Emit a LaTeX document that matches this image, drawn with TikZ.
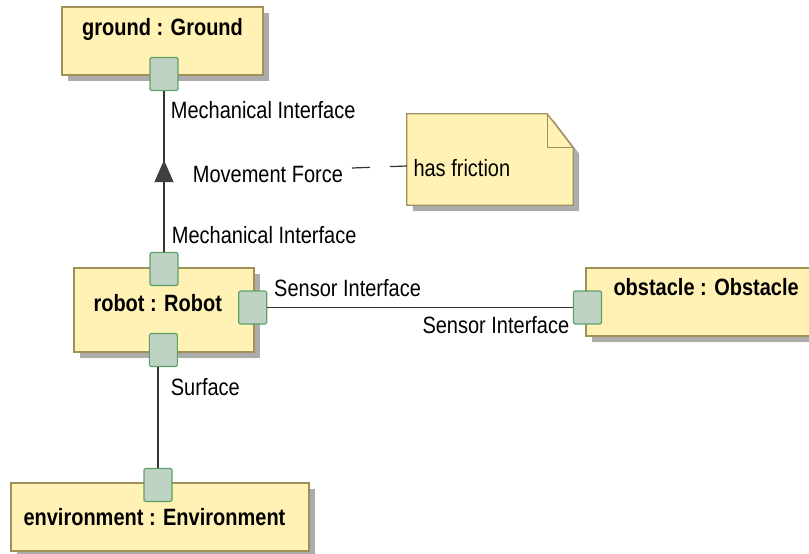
\documentclass[tikz,border=0pt]{standalone}
\usepackage{graphicx}
\usepackage{fontspec}
\setmainfont{Liberation Sans}
\usepackage{tikz}
\usetikzlibrary{positioning, arrows.meta, calc, shadows, decorations.markings}
\definecolor{partfill}{RGB}{255,242,180}
\definecolor{partline}{RGB}{160,145,90}
\definecolor{portfill}{RGB}{190,211,196}
\definecolor{portline}{RGB}{95,160,105}
\definecolor{shadowgray}{RGB}{172,172,172}
\newcommand{\tallfont}[1]{\scalebox{1}[1.18]{#1}}

\begin{document}
\begin{tikzpicture}[
        x=1pt, y=-1pt,
        part/.style={draw=partline, fill=partfill, line width=1.3pt, inner sep=0pt,
            drop shadow={shadow xshift=6pt, shadow yshift=-6pt, fill=shadowgray, opacity=1}},
        port/.style={draw=portline, fill=portfill, line width=1.1pt, rounded corners=1.5pt,
            inner sep=0pt, minimum width=28pt, minimum height=33pt},
        partname/.style={anchor=base west, inner sep=0pt, font=\fontsize{20}{24}\selectfont\bfseries},
        endlabel/.style={anchor=base west, inner sep=0pt, font=\fontsize{20}{24}\selectfont},
        link/.style={line width=1.2pt, draw=black!80}
    ]

    \useasboundingbox (0,0) rectangle (809,554);
    \clip (0,0) rectangle (809,554);

    % =========================================================================
    % 1. PARTS
    % =========================================================================
    \node[part, minimum width=201pt, minimum height=68pt] (ground) at (162.5,41) {};
    \node[part, minimum width=180pt, minimum height=84pt] (robot) at (164,310) {};
    \node[part, minimum width=244pt, minimum height=68pt] (obstacle) at (708,302) {};
    \node[part, minimum width=298pt, minimum height=68pt] (environment) at (160,517) {};

    \node[partname] (groundName) at (82,35) {\tallfont{ground : Ground}};
    \node[partname] (robotName) at (93.3,311.7) {\tallfont{robot : Robot}};
    \node[partname] (obstacleName) at (613.3,295) {\tallfont{obstacle : Obstacle}};
    \node[partname] (environmentName) at (23.3,525) {\tallfont{environment : Environment}};

    % =========================================================================
    % 2. PORTS
    % =========================================================================
    \node[port] (groundP) at (164,74) {};
    \node[port] (robotT) at (164,269) {};
    \node[port] (robotR) at (252.7,307.5) {};
    \node[port] (robotB) at (163.3,350) {};
    \node[port] (obstacleP) at (587.5,307.5) {};
    \node[port] (environmentP) at (158,485) {};

    % =========================================================================
    % 3. NOTE
    % =========================================================================
    \node[minimum width=166pt, minimum height=91pt, inner sep=0pt] (note) at (490,159.5) {};
    \fill[shadowgray] ($(note.north west)+(6,6)$) -- ($(note.north east)+(-20,6)$)
        -- ($(note.north east)+(6,40)$) -- ($(note.south east)+(6,6)$)
        -- ($(note.south west)+(6,6)$) -- cycle;
    \draw[draw=partline, fill=partfill, line width=1.3pt] (note.north west)
        -- ($(note.north east)+(-26,0)$) -- ($(note.north east)+(0,34)$)
        -- (note.south east) -- (note.south west) -- cycle;
    \draw[draw=partline, line width=1.3pt] ($(note.north east)+(-26,0)$)
        -- ($(note.north east)+(-26,34)$) -- ($(note.north east)+(0,34)$);
    \node[endlabel] (noteText) at (413.3,176.7) {\tallfont{has friction}};

    % =========================================================================
    % 4. CONNECTORS
    % =========================================================================
    % Movement force, ground <- robot
    \draw[link, postaction=decorate, decoration={markings,
        mark=at position 0.571 with {\arrow[black!75]{Triangle[width=19pt, length=22pt]}}}]
        (robotT.north) -- (groundP.south);
    % Sensor link
    \draw[link] (robotR.east) -- (obstacleP.west);
    % Surface link
    \draw[link] (environmentP.north) -- (environmentP.north |- robotB.south);
    % Note anchor
    \coordinate (forceEnd) at (352,168);
    \coordinate (noteEnd) at (407,166);
    \draw[link, dash pattern=on 18pt off 20pt] (forceEnd) -- (noteEnd);

    % =========================================================================
    % 5. END LABELS
    % =========================================================================
    \node[endlabel] (mechTop) at (170.7,118.3) {\tallfont{Mechanical Interface}};
    \node[endlabel] (force) at (192.7,182.7) {\tallfont{Movement Force}};
    \node[endlabel] (mechBot) at (171.7,243.3) {\tallfont{Mechanical Interface}};
    \node[endlabel] (sensorRobot) at (274,296.7) {\tallfont{Sensor Interface}};
    \node[endlabel] (sensorObstacle) at (422.3,333.3) {\tallfont{Sensor Interface}};
    \node[endlabel] (surface) at (170.7,395) {\tallfont{Surface}};

\end{tikzpicture}
\end{document}
